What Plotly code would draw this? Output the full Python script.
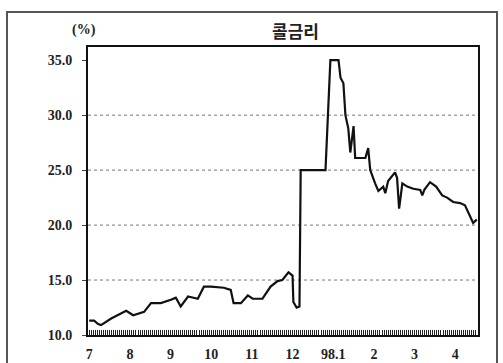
import plotly.graph_objects as go

# months elapsed since July 1997 (0 = Jul 1997, 6 = Jan 1998 ...)
months = [0.00, 0.12, 0.22, 0.29, 0.54, 0.78, 0.91, 1.08, 1.35, 1.52, 1.76, 2.01, 2.13, 2.25,
          2.43, 2.67, 2.82, 2.99, 3.31, 3.48, 3.55, 3.73, 3.90, 4.02, 4.26, 4.46, 4.63, 4.75,
          4.90, 5.00, 5.02, 5.10, 5.17, 5.20, 5.81, 5.93, 6.13, 6.18, 6.25, 6.30, 6.37, 6.42,
          6.47, 6.50, 6.54, 6.79, 6.86, 6.91, 7.03, 7.11, 7.23, 7.28, 7.35, 7.48, 7.52, 7.57,
          7.62, 7.70, 7.82, 7.97, 8.14, 8.19, 8.24, 8.38, 8.53, 8.68, 8.80, 8.95, 9.12, 9.24,
          9.36, 9.44, 9.53]
call_rate = [11.3, 11.3, 11.0, 10.9, 11.5, 12.0, 12.2, 11.8, 12.1, 12.9, 12.9, 13.2, 13.4, 12.6,
             13.5, 13.3, 14.4, 14.4, 14.3, 14.1, 12.9, 12.9, 13.6, 13.3, 13.3, 14.4, 14.9, 15.0,
             15.7, 15.4, 13.0, 12.5, 12.6, 25.0, 25.0, 35.0, 35.0, 33.4, 32.9, 30.0, 28.8, 26.6,
             27.9, 29.0, 26.1, 26.1, 27.0, 25.0, 23.8, 23.1, 23.5, 22.9, 24.0, 24.6, 24.8, 24.3,
             21.5, 23.8, 23.5, 23.3, 23.2, 22.7, 23.2, 23.9, 23.5, 22.7, 22.5, 22.1, 22.0, 21.8,
             20.9, 20.2, 20.5]

x_tick_pos = [0, 1, 2, 3, 4, 5, 6, 7, 8, 9]
x_tick_text = ["7", "8", "9", "10", "11", "12", "98.1", "2", "3", "4"]
y_ticks = [10, 15, 20, 25, 30, 35]
y_tick_text = ["10.0", "15.0", "20.0", "25.0", "30.0", "35.0"]

W, H = 503, 363
L, R, T, B = 88, 25, 47, 28
pw, ph = W - L - R, H - T - B
XR = [-0.03, 9.56]

def px_x(p):
    return (p - L) / pw

def px_y(p):
    return (H - B - p) / ph

SERIF = "Liberation Serif, Times New Roman, serif"

fig = go.Figure()
fig.add_trace(go.Scatter(x=months, y=call_rate, mode="lines",
                         line=dict(color="#111111", width=2.2), showlegend=False))

tick_font = dict(family=SERIF, size=14, color="#222222", weight="bold")

fig.update_layout(
    width=W, height=H,
    margin=dict(l=L, r=R, t=T, b=B, autoexpand=False),
    paper_bgcolor="white", plot_bgcolor="white",
    xaxis=dict(range=XR, tickmode="array", tickvals=x_tick_pos, ticktext=x_tick_text,
               tickfont=tick_font, showgrid=False, zeroline=False, automargin=False,
               showline=True, linecolor="#111111", linewidth=2, mirror=True,
               ticks="inside", ticklen=5, tickcolor="#111111", tickwidth=1,
               ticklabelstandoff=5),
    xaxis2=dict(range=XR, overlaying="x", side="bottom", tickmode="linear", tick0=0, dtick=0.05,
                ticks="inside", ticklen=5, tickcolor="#222222", tickwidth=1, automargin=False,
                showticklabels=False, showgrid=False, zeroline=False, showline=False),
    yaxis=dict(range=[10, 36.2], tickmode="array", tickvals=y_ticks, ticktext=y_tick_text,
               tickfont=tick_font, showgrid=False, zeroline=False, automargin=False,
               showline=True, linecolor="#111111", linewidth=2, mirror=True,
               ticks="outside", ticklen=4, tickcolor="#444444", ticklabelstandoff=7),
)

# dummy invisible trace so the overlay axis with dense day ticks is drawn
fig.add_trace(go.Scatter(x=[XR[0]], y=[y_ticks[0]], xaxis="x2", mode="markers",
                         marker=dict(opacity=0), showlegend=False, hoverinfo="skip"))

# dotted horizontal grid lines at inner ticks
for v in y_ticks[1:-1]:
    fig.add_shape(type="line", xref="paper", yref="y", x0=0, x1=1, y0=v, y1=v,
                  line=dict(color="#777777", width=1, dash="dot"), layer="below")

# outer frame of the figure
fig.add_shape(type="rect", xref="paper", yref="paper",
              x0=px_x(7), x1=px_x(497), y0=px_y(375), y1=px_y(12),
              line=dict(color="#555555", width=2))

fig.add_annotation(text="콜금리", xref="paper", yref="paper",
                   x=px_x(295), y=px_y(30), showarrow=False, yanchor="middle", xanchor="center",
                   font=dict(family="Noto Sans CJK KR", size=17, color="#222222", weight="bold"))
fig.add_annotation(text="(%)", xref="paper", yref="paper",
                   x=px_x(84), y=px_y(30), showarrow=False, yanchor="middle", xanchor="center",
                   font=dict(family=SERIF, size=14, color="#222222", weight="bold"))

fig.write_html("out.html")
